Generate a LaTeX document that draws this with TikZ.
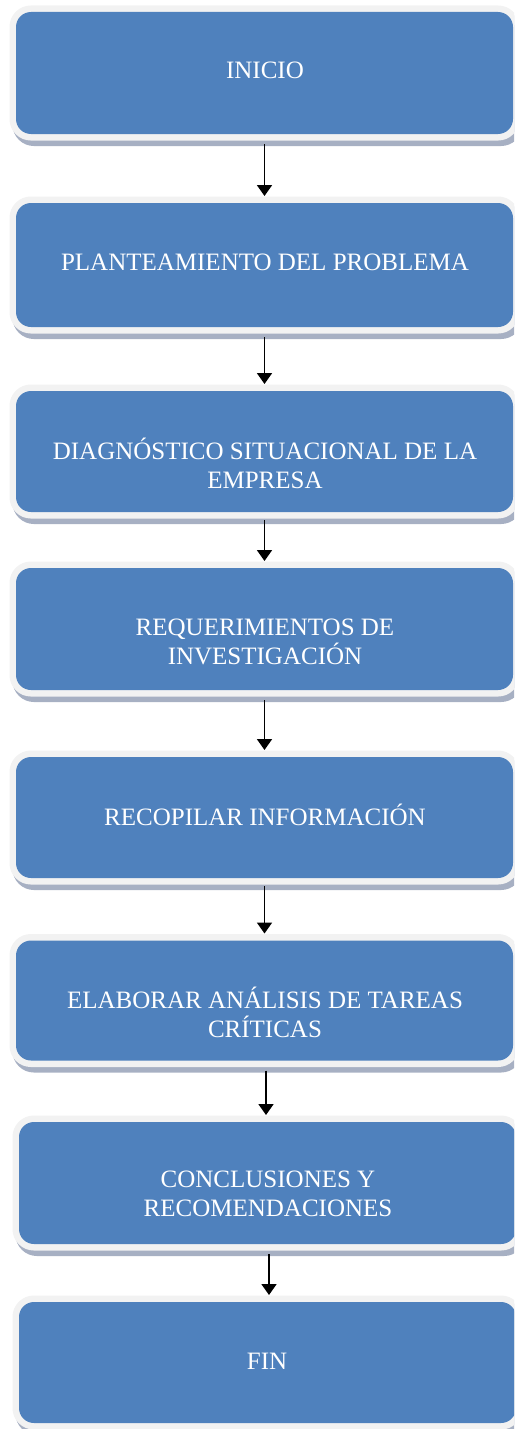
\documentclass[tikz,border=0pt]{standalone}
\usepackage{fontspec}
\setmainfont{Liberation Serif}
\usetikzlibrary{arrows.meta}
\definecolor{boxblue}{HTML}{4F81BD}
\definecolor{rimgray}{HTML}{F2F2F2}
\definecolor{shadowgray}{HTML}{A7B0C3}
\tikzset{
  stepbox/.style={
    rectangle, rounded corners=15pt, fill=boxblue, draw=none,
    minimum width=497pt, minimum height=122pt, inner sep=0pt,
    outer sep=7pt,
    preaction={draw=shadowgray, fill=shadowgray, line width=13pt, transform canvas={xshift=3pt,yshift=-5.5pt}},
    preaction={draw=rimgray, line width=13pt}
  },
  steptext/.style={text=white, align=center, inner sep=0pt,
    font=\fontsize{25}{29}\selectfont},
  arr/.style={line width=1.9pt, -{Triangle[width=15pt,length=11pt]}}
}
\begin{document}
\begin{tikzpicture}[x=1pt,y=-1pt]
\useasboundingbox (0,0) rectangle (514,1429);
\begin{scope}
\clip (0,0) rectangle (514,1429);
\node[stepbox] (n1) at (264.5,73) {};
\node[stepbox, minimum height=124pt] (n2) at (264.5,265) {};
\node[stepbox, minimum height=121pt] (n3) at (264.5,451.5) {};
\node[stepbox] (n4) at (264.5,629) {};
\node[stepbox, minimum height=121pt] (n5) at (264.5,817.5) {};
\node[stepbox, minimum height=120pt] (n6) at (264.5,1000.5) {};
\node[stepbox] (n7) at (267.5,1183) {};
\node[stepbox, minimum height=121pt] (n8) at (267.5,1362.5) {};
\end{scope}
\node[steptext] (t1) at (265,70) {INICIO};
\node[steptext] (t2) at (265,262) {PLANTEAMIENTO DEL PROBLEMA};
\node[steptext] (t3) at (265,463.5) {DIAGNÓSTICO SITUACIONAL DE LA\\EMPRESA};
\node[steptext] (t4) at (265,641.5) {REQUERIMIENTOS DE\\INVESTIGACIÓN};
\node[steptext] (t5) at (265,815) {RECOPILAR INFORMACIÓN};
\node[steptext] (t6) at (265,1012) {ELABORAR ANÁLISIS DE TAREAS\\CRÍTICAS};
\node[steptext] (t7) at (268,1193.5) {CONCLUSIONES Y\\RECOMENDACIONES};
\node[steptext] (t8) at (267,1361) {FIN};
\draw[arr] ([yshift=-3pt]n1.south) -- (n2.north);
\draw[arr] ([yshift=-3pt]n2.south) -- (n3.north);
\draw[arr] ([yshift=-1pt]n3.south) -- (n4.north);
\draw[arr] ([yshift=-3pt]n4.south) -- (n5.north);
\draw[arr] ([yshift=-1pt]n5.south) -- (n6.north);
\draw[arr] ([xshift=1.5pt,yshift=-3pt]n6.south) -- ([xshift=-1.5pt]n7.north);
\draw[arr] ([xshift=1.5pt,yshift=-3pt]n7.south) -- ([xshift=1.5pt]n8.north);
\end{tikzpicture}
\end{document}
